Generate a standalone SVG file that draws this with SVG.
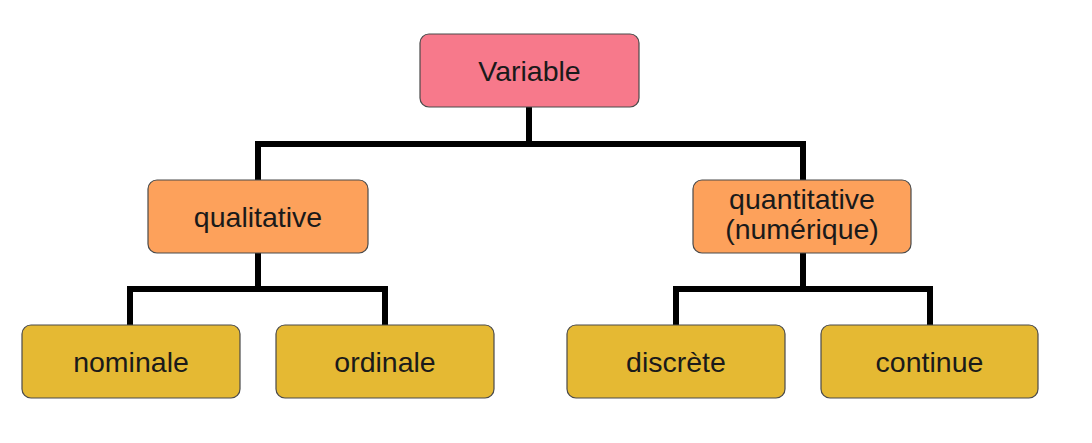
<svg xmlns="http://www.w3.org/2000/svg" width="1092" height="443" viewBox="0 0 1092 443">
<style>
.box{stroke:#4a4a4a;stroke-width:1.2}
.pink{fill:#F7798B}
.orange{fill:#FDA15B}
.yellow{fill:#E5B933}
.lbl{font-family:"Liberation Sans",Arial,sans-serif;font-size:28.5px;fill:#1a1a1a;text-anchor:middle}
.conn{fill:none;stroke:#000;stroke-width:6;stroke-linejoin:miter;stroke-linecap:butt}
</style>
<rect width="1092" height="443" fill="#fff"/>
<g id="connectors">
<path class="conn" d="M529 107 V144 M258 180 V144 H803 V180"/>
<path class="conn" d="M258 253 V289 M130 325 V289 H385 V325"/>
<path class="conn" d="M803 253 V289 M676 325 V289 H930 V325"/>
</g>
<g id="variable">
<rect class="box pink" x="420" y="34" width="219" height="73" rx="9"/>
<text class="lbl" x="529.5" y="81">Variable</text>
</g>
<g id="qualitative">
<rect class="box orange" x="148" y="180" width="220" height="73" rx="9"/>
<text class="lbl" x="258" y="227">qualitative</text>
</g>
<g id="quantitative">
<rect class="box orange" x="693" y="180" width="218" height="73" rx="9"/>
<text class="lbl" x="802" y="209">quantitative</text>
<text class="lbl" x="802" y="239">(numérique)</text>
</g>
<g id="nominale">
<rect class="box yellow" x="22" y="325" width="218" height="73" rx="9"/>
<text class="lbl" x="131" y="372">nominale</text>
</g>
<g id="ordinale">
<rect class="box yellow" x="276" y="325" width="218" height="73" rx="9"/>
<text class="lbl" x="385" y="372">ordinale</text>
</g>
<g id="discrete">
<rect class="box yellow" x="567" y="325" width="218" height="73" rx="9"/>
<text class="lbl" x="676" y="372">discrète</text>
</g>
<g id="continue">
<rect class="box yellow" x="821" y="325" width="217" height="73" rx="9"/>
<text class="lbl" x="929.5" y="372">continue</text>
</g>
</svg>
